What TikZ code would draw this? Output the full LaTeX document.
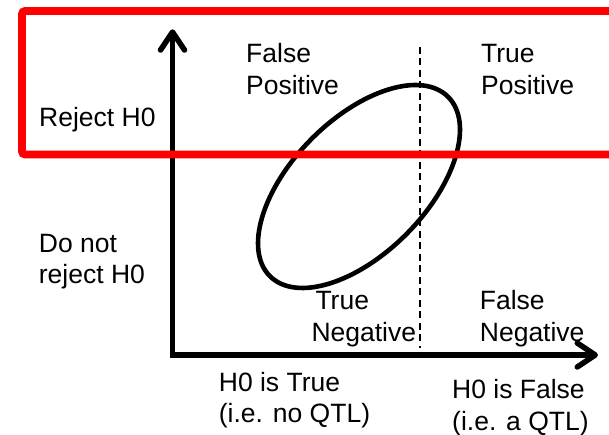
\documentclass[tikz,border=0pt]{standalone}
\usepackage{fontspec}
\setmainfont{Liberation Sans}
\usetikzlibrary{arrows.meta}
\begin{document}
\begin{tikzpicture}[x=1pt,y=1pt,
  lbl/.style={anchor=base west, inner sep=0pt, align=left, font=\fontsize{26.5}{31.5}\selectfont},
  axisline/.style={line width=5.5pt, line join=miter,
    {Straight Barb[length=18pt,width=24pt,round]}-{Straight Barb[length=18pt,width=24pt,round]}},
  redframe/.style={draw=red, line width=7.7pt, rounded corners=3pt},
  threshold/.style={line width=1.4pt, dash pattern=on 7pt off 4.5pt},
  curve/.style={line width=4.6pt}
]
\useasboundingbox (0,0) rectangle (609,435);
\fill[white] (0,0) rectangle (609,435);
\clip (0,0) rectangle (609,435);

% coordinates
\coordinate (origin) at (172.5,80);
\coordinate (ytip) at (172.5,405.7);
\coordinate (xtip) at (598,80);
\coordinate (dtop) at (420,388);
\coordinate (dbot) at (420,87);

% axes
\draw[axisline] (ytip) -- (origin) -- (xtip);

% threshold line
\draw[threshold] (dtop) -- (dbot);

% ellipse
\draw[curve, rotate around={45.25:(359,248.5)}] (359,248.5) ellipse [x radius=126.4, y radius=67.2];

% red frame
\draw[redframe] (640,424) -- (22,424) -- (22,280.5) -- (640,280.5);

% labels (base anchor = baseline of last line)
\node[lbl] (rej) at (39,308) {Reject H0};
\node[lbl] (dnr) at (38.7,151) {Do not\\reject H0};
\node[lbl] (fp) at (246,340.5) {False\\Positive};
\node[lbl] (tp) at (481,340.5) {True\\Positive};
\node[lbl] (tn) at (311.3,93.5) {\hspace*{4pt}True\\Negative};
\node[lbl] (fn) at (479.7,93.5) {False\\Negative};
\node[lbl] (h0t) at (218.7,12) {H0 is True\\(i.e. no QTL)};
\node[lbl] (h0f) at (452,4.5) {H0 is False\\(i.e. a QTL)};
\end{tikzpicture}
\end{document}
